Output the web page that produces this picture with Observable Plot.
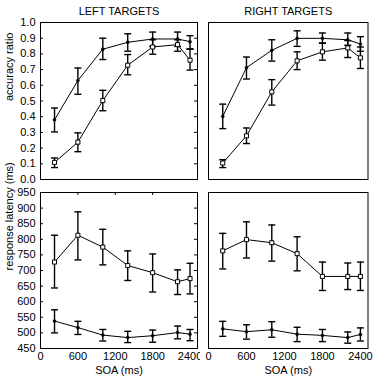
<!DOCTYPE html>
<html>
<head>
<meta charset="utf-8">
<script src="https://cdn.jsdelivr.net/npm/d3@7"></script>
<script src="https://cdn.jsdelivr.net/npm/@observablehq/plot@0.6"></script>
<style>
  body { margin: 0; background: white; }
  #chart { position: relative; width: 379px; height: 380px; background: white; }
  #chart svg { position: absolute; }
</style>
</head>
<body>
<div id="chart"></div>
<script>
// ---- data ----
const soa = [225, 600, 1000, 1400, 1800, 2200, 2400];
const xTickLabels = [0, 600, 1200, 1800, 2400];
const accTicks = [0, 0.1, 0.2, 0.3, 0.4, 0.5, 0.6, 0.7, 0.8, 0.9, 1.0];
const latTicks = [450, 500, 550, 600, 650, 700, 750, 800, 850, 900, 950];
const panelTitles = ["LEFT TARGETS", "RIGHT TARGETS"];
const yTitles = ["accuracy ratio", "response latency (ms)"];
const xTitle = "SOA (ms)";

// accuracy, left targets
const accLeftDot   = [0.380, 0.630, 0.830, 0.874, 0.895, 0.895, 0.878];
const accLeftDotLo = [0.303, 0.543, 0.764, 0.817, 0.848, 0.848, 0.832];
const accLeftDotHi = [0.455, 0.710, 0.900, 0.928, 0.939, 0.939, 0.916];
const accLeftSq    = [0.109, 0.238, 0.503, 0.728, 0.844, 0.859, 0.760];
const accLeftSqLo  = [0.076, 0.177, 0.438, 0.667, 0.798, 0.817, 0.697];
const accLeftSqHi  = [0.137, 0.297, 0.568, 0.796, 0.890, 0.890, 0.830];
// accuracy, right targets
const accRightDot   = [0.402, 0.712, 0.823, 0.899, 0.899, 0.890, 0.863];
const accRightDotLo = [0.324, 0.640, 0.754, 0.848, 0.869, 0.855, 0.817];
const accRightDotHi = [0.480, 0.780, 0.890, 0.947, 0.933, 0.933, 0.910];
const accRightSq    = [0.105, 0.278, 0.558, 0.756, 0.813, 0.838, 0.775];
const accRightSqLo  = [0.076, 0.229, 0.474, 0.700, 0.760, 0.777, 0.707];
const accRightSqHi  = [0.126, 0.328, 0.636, 0.813, 0.869, 0.885, 0.844];
// latency, left targets
const latLeftSq    = [727, 813, 775, 716, 693, 664, 674];
const latLeftSqLo  = [644, 734, 718, 668, 631, 623, 625];
const latLeftSqHi  = [813, 888, 832, 763, 753, 702, 723];
const latLeftDot   = [538, 517, 493, 485, 491, 501, 496];
const latLeftDotLo = [500, 495, 474, 469, 470, 481, 475];
const latLeftDotHi = [574, 537, 511, 505, 509, 522, 511];
// latency, right targets
const latRightSq    = [763, 799, 789, 754, 681, 681, 681];
const latRightSqLo  = [705, 740, 730, 699, 636, 639, 636];
const latRightSqHi  = [819, 856, 846, 808, 727, 724, 727];
const latRightDot   = [513, 504, 510, 496, 492, 485, 495];
const latRightDotLo = [489, 480, 486, 472, 472, 467, 474];
const latRightDotHi = [537, 526, 536, 518, 511, 503, 516];

// ---- helpers ----
const rows = (m, lo, hi) => soa.map((x, i) => ({x, y: m[i], lo: lo[i], hi: hi[i]}));
const capSymbol = { draw(ctx) { ctx.moveTo(-3.5, 0); ctx.lineTo(3.5, 0); } };
const font = "'Liberation Sans', Arial, Helvetica, sans-serif";

function seriesMarks(data, kind) {
  return [
    Plot.line(data, {x: "x", y: "y", stroke: "black", strokeWidth: 1}),
    Plot.ruleX(data, {x: "x", y1: "lo", y2: "hi", stroke: "black", strokeWidth: 1.4}),
    Plot.dot(data, {x: "x", y: "lo", symbol: capSymbol, stroke: "black", strokeWidth: 1.4}),
    Plot.dot(data, {x: "x", y: "hi", symbol: capSymbol, stroke: "black", strokeWidth: 1.4}),
    kind === "square"
      ? Plot.dot(data, {x: "x", y: "y", symbol: "square", r: 2.3, fill: "white", stroke: "black", strokeWidth: 1})
      : Plot.dot(data, {x: "x", y: "y", r: 1.5, fill: "black", stroke: "black", strokeWidth: 0.5})
  ];
}

function panel({left, top, width, height, mLeft, mRight, mTop, mBottom, yDomain, yTicks, yFmt,
                isLeft, isBottom, title, yTitle, series}) {
  const fw = width - mLeft - mRight;
  const fh = height - mTop - mBottom;
  const marks = [Plot.frame({stroke: "black", strokeWidth: 1})];
  if (title) marks.push(Plot.text([title], {text: d => d, frameAnchor: "top", dy: -15, fontSize: 11}));
  if (isLeft) {
    marks.push(Plot.axisY({ticks: yTicks, tickSize: 0, tickPadding: 5, tickFormat: yFmt, label: null, fontSize: 11}));
    marks.push(Plot.tickY(yTicks, {y: d => d, insetRight: fw - 3, stroke: "black"}));
    marks.push(Plot.tickY(yTicks, {y: d => d, insetLeft: fw - 3, stroke: "black"}));
    marks.push(Plot.text([yTitle], {text: d => d, frameAnchor: "left", rotate: -90, dx: -31, fontSize: 11}));
  }
  if (isBottom) {
    marks.push(Plot.axisX({ticks: xTickLabels, tickSize: 0, tickPadding: 4, tickFormat: d3.format("d"), label: null, fontSize: 11}));
    marks.push(Plot.text([xTitle], {text: d => d, frameAnchor: "bottom", dy: 25, fontSize: 11}));
    if (isLeft) marks.push(Plot.tickX([600, 1200, 1800], {x: d => d, insetBottom: fh - 3, stroke: "black"}));
  }
  for (const s of series) marks.push(...seriesMarks(s.data, s.kind));
  const svg = Plot.plot({
    width, height,
    marginLeft: mLeft, marginRight: mRight, marginTop: mTop, marginBottom: mBottom,
    x: {domain: [0, 2520], axis: isBottom ? undefined : null},
    y: {domain: yDomain, axis: isLeft ? undefined : null},
    style: {fontFamily: font, fontSize: "11px", color: "black", background: "white", overflow: "visible"},
    marks
  });
  svg.style.left = left + "px";
  svg.style.top = top + "px";
  return svg;
}

const chart = document.getElementById("chart");
const fmtAcc = d3.format(".1f");
const fmtLat = d3.format("d");

chart.append(panel({left: 0, top: 0, width: 200, height: 185, mLeft: 40, mRight: 3, mTop: 22, mBottom: 6,
  yDomain: [0, 1], yTicks: accTicks, yFmt: fmtAcc, isLeft: true, isBottom: false,
  title: panelTitles[0], yTitle: yTitles[0],
  series: [{data: rows(accLeftDot, accLeftDotLo, accLeftDotHi), kind: "dot"},
           {data: rows(accLeftSq, accLeftSqLo, accLeftSqHi), kind: "square"}]}));

chart.append(panel({left: 200, top: 0, width: 179, height: 185, mLeft: 8, mRight: 11.5, mTop: 22, mBottom: 6,
  yDomain: [0, 1], yTicks: accTicks, yFmt: fmtAcc, isLeft: false, isBottom: false,
  title: panelTitles[1],
  series: [{data: rows(accRightDot, accRightDotLo, accRightDotHi), kind: "dot"},
           {data: rows(accRightSq, accRightSqLo, accRightSqHi), kind: "square"}]}));

chart.append(panel({left: 0, top: 185, width: 200, height: 195, mLeft: 40, mRight: 3, mTop: 7, mBottom: 32,
  yDomain: [450, 950], yTicks: latTicks, yFmt: fmtLat, isLeft: true, isBottom: true,
  yTitle: yTitles[1],
  series: [{data: rows(latLeftSq, latLeftSqLo, latLeftSqHi), kind: "square"},
           {data: rows(latLeftDot, latLeftDotLo, latLeftDotHi), kind: "dot"}]}));

chart.append(panel({left: 200, top: 185, width: 179, height: 195, mLeft: 8, mRight: 11.5, mTop: 7, mBottom: 32,
  yDomain: [450, 950], yTicks: latTicks, yFmt: fmtLat, isLeft: false, isBottom: true,
  series: [{data: rows(latRightSq, latRightSqLo, latRightSqHi), kind: "square"},
           {data: rows(latRightDot, latRightDotLo, latRightDotHi), kind: "dot"}]}));
</script>
</body>
</html>
